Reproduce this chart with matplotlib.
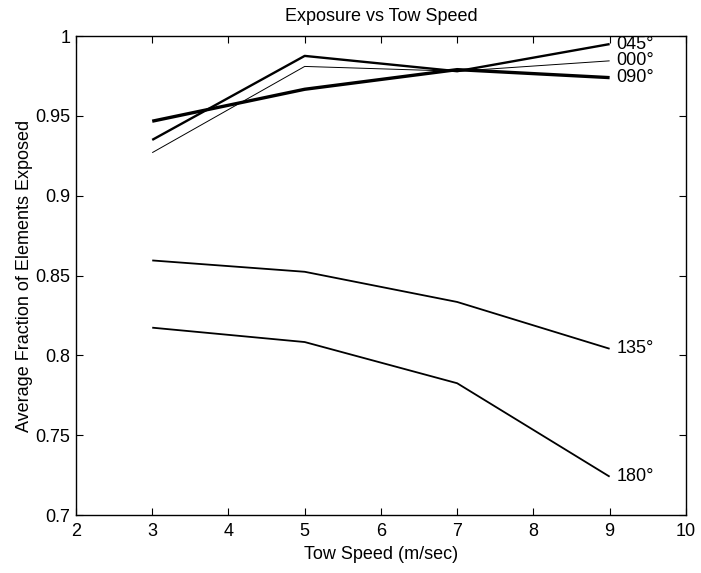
import matplotlib
matplotlib.use("Agg")
import matplotlib.pyplot as plt

plt.rcParams["font.family"] = ["Liberation Sans", "DejaVu Sans"]

# tow speed (m/sec)
speeds = [3, 5, 7, 9]

# average fraction of elements exposed, per heading
exp_000 = [0.927, 0.981, 0.978, 0.9845]
exp_045 = [0.935, 0.9876, 0.978, 0.995]
exp_090 = [0.9467, 0.9667, 0.979, 0.974]
exp_135 = [0.8595, 0.8524, 0.8335, 0.8042]
exp_180 = [0.8174, 0.8084, 0.7826, 0.7241]

headings = ["000\u00b0", "045\u00b0", "090\u00b0", "135\u00b0", "180\u00b0"]
series = [exp_000, exp_045, exp_090, exp_135, exp_180]
widths = [0.7, 1.7, 2.4, 1.3, 1.3]

fs = 13

fig = plt.figure(figsize=(7.01, 5.73), dpi=100)
ax = fig.add_axes([0.1084, 0.101, 0.870, 0.836])

for name, vals, lw in zip(headings, series, widths):
    ax.plot(speeds, vals, color="black", linewidth=lw, solid_capstyle="butt")
    ax.text(speeds[-1] + 0.09, vals[-1], name, ha="left", va="center", fontsize=fs)

ax.set_xlim(2, 10)
ax.set_ylim(0.7, 1.0)
ax.set_xticks(range(2, 11))
ax.set_yticks([0.7, 0.75, 0.8, 0.85, 0.9, 0.95, 1.0])
ax.set_yticklabels(["0.7", "0.75", "0.8", "0.85", "0.9", "0.95", "1"])
ax.tick_params(direction="in", top=True, right=True, labelsize=fs, length=5, width=0.8)
ax.tick_params(axis="x", pad=6)
ax.tick_params(axis="y", pad=4)
for sp in ax.spines.values():
    sp.set_linewidth(1.0)

ax.set_title("Exposure vs Tow Speed", fontsize=fs, pad=11)
ax.set_xlabel("Tow Speed (m/sec)", fontsize=fs, labelpad=4)
ax.set_ylabel("Average Fraction of Elements Exposed", fontsize=fs, labelpad=2)

fig.savefig("out.png", dpi=100)
